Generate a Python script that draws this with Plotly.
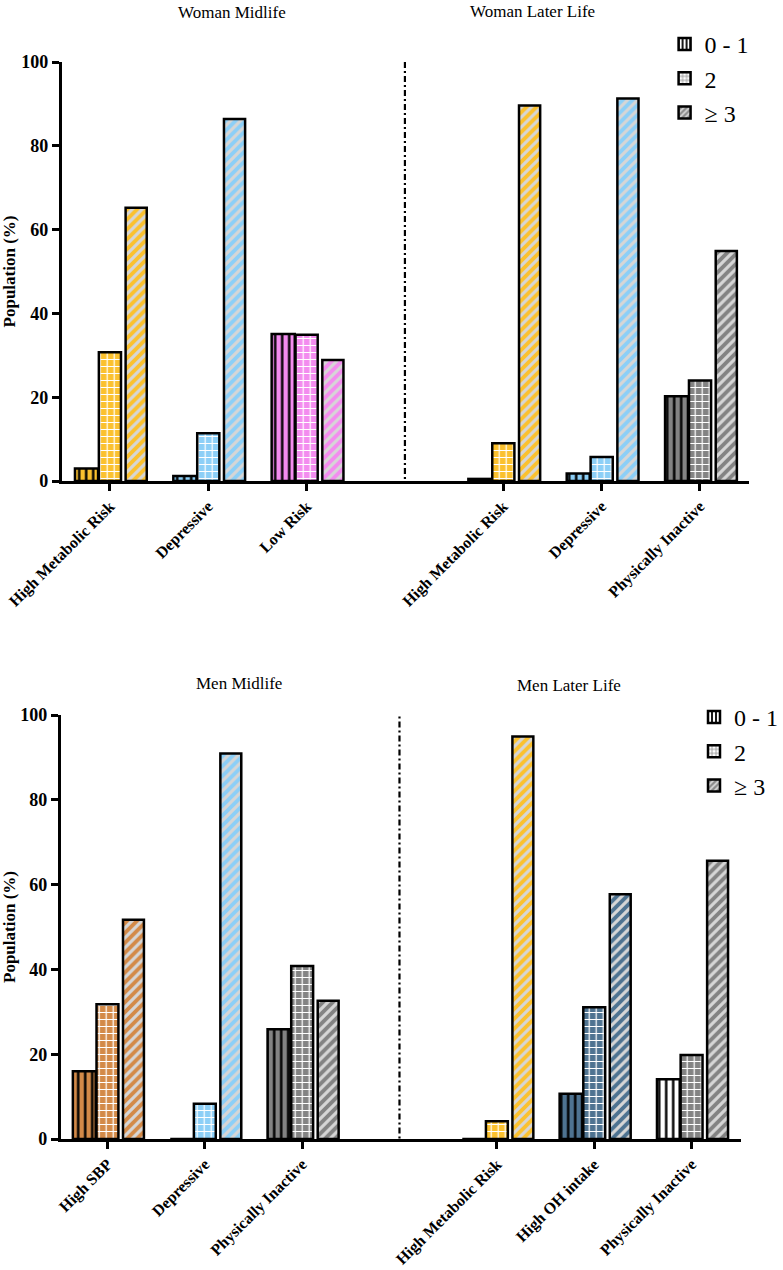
import plotly.graph_objects as go

# ---------------- data ----------------
pos_x = [0, 1, 2, 4, 5, 6]
sep_x = 3

women_cats = ["High Metabolic Risk", "Depressive", "Low Risk",
              "High Metabolic Risk", "Depressive", "Physically Inactive"]
women_01 = [3.0, 1.2, 35.1, 0.5, 1.8, 20.2]
women_2 = [30.7, 11.4, 34.9, 9.0, 5.7, 24.0]
women_3 = [65.2, 86.4, 28.9, 89.6, 91.3, 54.9]

men_cats = ["High SBP", "Depressive", "Physically Inactive",
            "High Metabolic Risk", "High OH intake", "Physically Inactive"]
men_01 = [16.0, 0.0, 25.9, 0.0, 10.7, 14.1]
men_2 = [31.8, 8.3, 40.8, 4.2, 31.1, 19.8]
men_3 = [51.7, 90.9, 32.6, 94.9, 57.7, 65.6]

panel_titles = ["Woman Midlife", "Woman Later Life", "Men Midlife", "Men Later Life"]
legend_names = ["0 - 1", "2", "≥ 3"]
y_ticks = [0, 20, 40, 60, 80, 100]

# ---------------- styles ----------------
ORANGE = "#FBC12E"
LBLUE = "#8CCFF7"
PINK = "#F38CEF"
GRAY = "#838383"
PERU = "#D38A48"
STEEL = "#4E7391"

women_colors = [ORANGE, LBLUE, PINK, ORANGE, LBLUE, GRAY]
men_colors = [PERU, LBLUE, GRAY, ORANGE, STEEL, GRAY]
men_01_bg = [PERU, LBLUE, GRAY, ORANGE, STEEL, "#FFFFFF"]

SERIF = "Liberation Serif"
W = 783
H = 1270

widths = [0.235, 0.225, 0.215]
offsets = [-0.355, -0.112, 0.16]

fig = go.Figure()


def add_panel(vals, bg01, colors, xa, ya, leg):
    specs = [
        (vals[0], "|", bg01, "#000000", 7, 0.35),
        (vals[1], "+", colors, "#FFFFFF", 7, 0.32),
        (vals[2], "/", colors, "#D6D6D6", 7, 0.45),
    ]
    for k, (v, shp, bgs, fg, sz, sol) in enumerate(specs):
        for i in range(len(pos_x)):
            fig.add_trace(go.Bar(
                x=[pos_x[i]], y=[v[i]], xaxis=xa, yaxis=ya,
                width=widths[k], offset=offsets[k],
                marker=dict(
                    color=bgs[i],
                    line=dict(color="black", width=2.5),
                    pattern=dict(shape=shp, bgcolor=bgs[i], fgcolor=fg,
                                 fgopacity=1, size=sz, solidity=sol,
                                 fillmode="replace"),
                ),
                showlegend=False, hoverinfo="y",
            ))
    # legend-only traces
    leg_specs = [
        ("|", "#FFFFFF", "#000000", 0.45),
        ("+", "#FFFFFF", "#8A8A8A", 0.35),
        ("/", "#8A8A8A", "#D9D9D9", 0.45),
    ]
    for k, (shp, bg, fg, sol) in enumerate(leg_specs):
        fig.add_trace(go.Bar(
            x=[None], y=[None], xaxis=xa, yaxis=ya, name=legend_names[k],
            legend=leg, showlegend=True,
            marker=dict(color=bg, line=dict(color="black", width=2.5),
                        pattern=dict(shape=shp, bgcolor=bg, fgcolor=fg, fgopacity=1,
                                     size=5, solidity=sol, fillmode="replace")),
        ))


add_panel([women_01, women_2, women_3], women_colors, women_colors, "x", "y", "legend")
add_panel([men_01, men_2, men_3], men_01_bg, men_colors, "x2", "y2", "legend2")

axis_common = dict(
    showline=True, linecolor="black", linewidth=2.5,
    ticks="outside", ticklen=7, tickwidth=2.5, tickcolor="black",
    showgrid=False, zeroline=False, automargin=False,
)

xtick_font = dict(family=SERIF, size=16, weight="bold", color="black")
ytick_font = dict(family=SERIF, size=18, weight="bold", color="black")
ytitle = dict(text="Population (%)", standoff=6,
              font=dict(family=SERIF, size=17, weight="bold", color="black"))

fig.update_layout(
    width=W, height=H,
    margin=dict(l=0, r=0, t=0, b=0),
    plot_bgcolor="white", paper_bgcolor="white",
    barmode="overlay",
    font=dict(family=SERIF, color="black"),
    xaxis=dict(domain=[62 / W, 753 / W], anchor="y", range=[-0.49, 6.5],
               tickvals=pos_x, ticktext=women_cats, tickangle=-45,
               tickfont=xtick_font, **axis_common),
    yaxis=dict(domain=[1 - 481 / H, 1 - 62 / H], anchor="x", range=[0, 100],
               tickvals=y_ticks, tickfont=ytick_font, title=ytitle,
               **axis_common),
    xaxis2=dict(domain=[61 / W, 745 / W], anchor="y2", range=[-0.48, 6.51],
                tickvals=pos_x, ticktext=men_cats, tickangle=-45,
                tickfont=xtick_font, **axis_common),
    yaxis2=dict(domain=[1 - 1139 / H, 1 - 715 / H], anchor="x2", range=[0, 100],
                tickvals=y_ticks, tickfont=ytick_font, title=ytitle,
                **axis_common),
    legend=dict(x=668 / W, y=1 - 22 / H, xanchor="left", yanchor="top",
                font=dict(family=SERIF, size=24, color="black"),
                bgcolor="rgba(0,0,0,0)", itemwidth=30),
    legend2=dict(x=698 / W, y=1 - 695 / H, xanchor="left", yanchor="top",
                 font=dict(family=SERIF, size=24, color="black"),
                 bgcolor="rgba(0,0,0,0)", itemwidth=30),
)

# panel titles
title_pos = [(233, 12), (535, 11), (240, 683), (572, 685)]
for t, (px, py) in zip(panel_titles, title_pos):
    fig.add_annotation(text=t, x=px / W, y=1 - py / H, xref="paper", yref="paper",
                       showarrow=False, xanchor="center", yanchor="middle",
                       font=dict(family=SERIF, size=17, color="black"))

# dash-dot separators
fig.add_shape(type="line", xref="x", yref="y", x0=sep_x, x1=sep_x, y0=-5, y1=101,
              line=dict(color="black", width=2.2, dash="6px,3px,2px,3px"))
fig.add_shape(type="line", xref="x2", yref="y2", x0=sep_x, x1=sep_x, y0=-2, y1=104,
              line=dict(color="black", width=2.2, dash="6px,3px,2px,3px"))

fig.write_html("out.html")
